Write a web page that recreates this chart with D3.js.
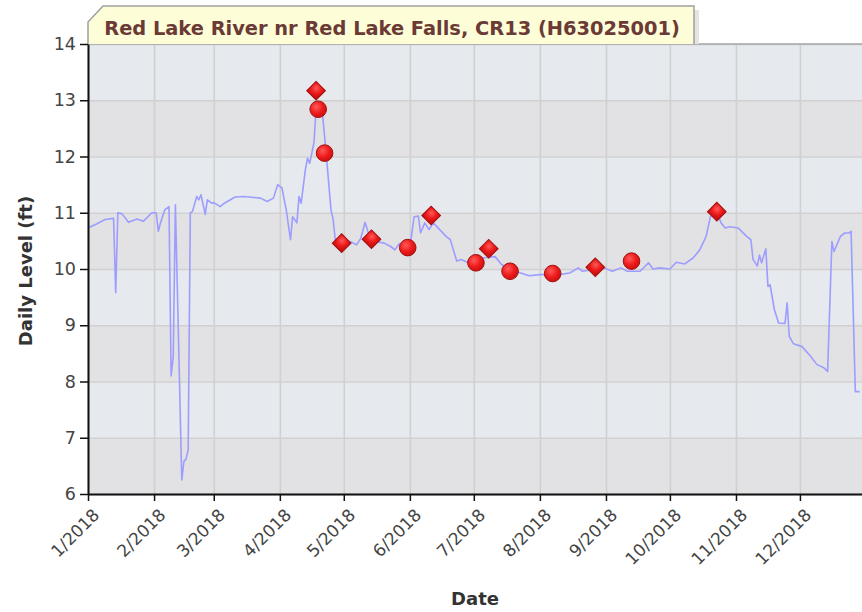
<!DOCTYPE html>
<html>
<head>
<meta charset="utf-8">
<script src="https://cdn.jsdelivr.net/npm/d3@7"></script>
<style>
  body { margin: 0; background: #fff; }
  svg { display: block; }
</style>
</head>
<body>
<svg width="862" height="612"></svg>
<script>
// daily level as [date, ft]
var levelSeries = [
  ["2018-01-01",10.73],["2018-01-05",10.8],["2018-01-09",10.88],["2018-01-13",10.9],["2018-01-14",9.58],
  ["2018-01-15",11.0],["2018-01-17",10.98],["2018-01-20",10.83],["2018-01-24",10.89],["2018-01-27",10.85],
  ["2018-01-31",11.0],["2018-02-02",11.0],["2018-02-03",10.67],["2018-02-04",10.82],["2018-02-06",11.05],
  ["2018-02-08",11.11],["2018-02-09",8.1],["2018-02-10",8.45],["2018-02-11",11.14],["2018-02-14",6.25],
  ["2018-02-15",6.58],["2018-02-16",6.62],["2018-02-17",6.79],["2018-02-18",11.0],["2018-02-19",11.02],
  ["2018-02-21",11.29],["2018-02-22",11.23],["2018-02-23",11.32],["2018-02-25",10.97],["2018-02-26",11.23],
  ["2018-02-28",11.17],["2018-03-01",11.18],["2018-03-04",11.11],["2018-03-06",11.17],["2018-03-11",11.28],
  ["2018-03-15",11.29],["2018-03-20",11.27],["2018-03-23",11.26],["2018-03-26",11.2],["2018-03-29",11.26],
  ["2018-03-31",11.5],["2018-04-02",11.44],["2018-04-04",11.05],["2018-04-06",10.52],["2018-04-07",10.93],
  ["2018-04-09",10.82],["2018-04-10",11.29],["2018-04-11",11.17],["2018-04-13",11.77],["2018-04-14",11.97],
  ["2018-04-15",11.88],["2018-04-17",12.24],["2018-04-18",12.83],["2018-04-21",12.77],["2018-04-23",11.94],
  ["2018-04-25",11.05],["2018-04-26",10.88],["2018-04-27",10.52],["2018-04-30",10.46],["2018-05-04",10.49],
  ["2018-05-07",10.43],["2018-05-09",10.55],["2018-05-11",10.83],["2018-05-13",10.58],["2018-05-16",10.49],
  ["2018-05-20",10.46],["2018-05-23",10.4],["2018-05-25",10.34],["2018-05-27",10.45],["2018-06-01",10.37],
  ["2018-06-03",10.93],["2018-06-05",10.94],["2018-06-06",10.64],["2018-06-08",10.82],["2018-06-10",10.7],
  ["2018-06-12",10.82],["2018-06-15",10.7],["2018-06-18",10.58],["2018-06-20",10.52],["2018-06-23",10.14],
  ["2018-06-25",10.17],["2018-06-28",10.12],["2018-06-29",10.14],["2018-07-06",10.2],["2018-07-11",10.22],
  ["2018-07-14",10.08],["2018-07-18",9.99],["2018-07-23",9.93],["2018-07-27",9.88],["2018-08-01",9.9],
  ["2018-08-04",9.9],["2018-08-10",9.9],["2018-08-15",9.93],["2018-08-19",10.02],["2018-08-21",9.96],
  ["2018-08-26",9.99],["2018-08-31",10.02],["2018-09-04",9.96],["2018-09-08",10.02],["2018-09-11",9.96],
  ["2018-09-17",9.96],["2018-09-21",10.11],["2018-09-23",10.0],["2018-09-26",10.02],["2018-10-01",10.0],
  ["2018-10-04",10.12],["2018-10-08",10.09],["2018-10-12",10.2],["2018-10-15",10.34],["2018-10-18",10.58],
  ["2018-10-20",10.93],["2018-10-23",11.02],["2018-10-25",10.82],["2018-10-27",10.73],["2018-10-29",10.75],
  ["2018-11-02",10.73],["2018-11-06",10.58],["2018-11-08",10.52],["2018-11-09",10.17],["2018-11-11",10.05],
  ["2018-11-12",10.25],["2018-11-13",10.11],["2018-11-15",10.36],["2018-11-16",9.69],["2018-11-17",9.72],
  ["2018-11-19",9.28],["2018-11-21",9.04],["2018-11-24",9.03],["2018-11-25",9.4],["2018-11-26",8.8],
  ["2018-11-28",8.67],["2018-12-02",8.62],["2018-12-06",8.45],["2018-12-09",8.3],["2018-12-12",8.25],
  ["2018-12-14",8.18],["2018-12-16",10.49],["2018-12-17",10.31],["2018-12-20",10.58],["2018-12-22",10.64],
  ["2018-12-24",10.64],["2018-12-25",10.67],["2018-12-27",7.82],["2018-12-29",7.82]
];

// field readings
var diamondPoints = [
  ["2018-04-18",13.17],["2018-04-30",10.46],["2018-05-14",10.53],["2018-06-11",10.95],
  ["2018-07-08",10.36],["2018-08-27",10.03],["2018-10-23",11.02]
];
var circlePoints = [
  ["2018-04-19",12.84],["2018-04-22",12.06],["2018-05-31",10.38],["2018-07-02",10.11],
  ["2018-07-18",9.96],["2018-08-07",9.92],["2018-09-13",10.14]
];

var yTicks = [6, 7, 8, 9, 10, 11, 12, 13, 14];
var title = "Red Lake River nr Red Lake Falls, CR13 (H63025001)";

var parse = d3.timeParse("%Y-%m-%d");

var svg = d3.select("svg"),
    plotLeft = 88, plotTop = 44, plotBottom = 494, plotRight = 866;

var x = d3.scaleTime()
    .domain([new Date(2018, 0, 1), new Date(2019, 0, 1)])
    .range([plotLeft, plotRight]);

var y = d3.scaleLinear()
    .domain([6, 14])
    .range([plotBottom, plotTop]);

var months = d3.timeMonth.range(new Date(2018, 0, 1), new Date(2019, 0, 1));

var defs = svg.append("defs");
var grad = defs.append("radialGradient").attr("id", "ball")
    .attr("cx", "38%").attr("cy", "35%").attr("r", "65%");
grad.append("stop").attr("offset", "0%").attr("stop-color", "#ff5a5a");
grad.append("stop").attr("offset", "60%").attr("stop-color", "#ee1c1c");
grad.append("stop").attr("offset", "100%").attr("stop-color", "#d01010");

defs.append("clipPath").attr("id", "plot")
  .append("rect").attr("x", plotLeft).attr("y", plotTop)
  .attr("width", plotRight - plotLeft).attr("height", plotBottom - plotTop);

// alternating bands
svg.append("g").selectAll("rect")
  .data(d3.range(6, 14))
  .enter().append("rect")
    .attr("x", plotLeft)
    .attr("y", function(d) { return y(d + 1); })
    .attr("width", plotRight - plotLeft)
    .attr("height", function(d) { return y(d) - y(d + 1); })
    .attr("fill", function(d) { return d % 2 === 1 ? "#e6e9ed" : "#e2e2e4"; });

// grid
svg.append("g")
  .attr("transform", "translate(0," + plotBottom + ")")
  .call(d3.axisBottom(x).tickValues(months).tickSize(-(plotBottom - plotTop)).tickFormat(""))
  .call(function(g) {
    g.select(".domain").remove();
    g.selectAll("line").attr("stroke", "#d0d0d0").attr("stroke-width", 1.6);
  });
svg.append("g")
  .attr("transform", "translate(" + plotLeft + ",0)")
  .call(d3.axisLeft(y).tickValues(yTicks).tickSize(-(plotRight - plotLeft)).tickFormat(""))
  .call(function(g) {
    g.select(".domain").remove();
    g.selectAll("line").attr("stroke", "#d0d0d0").attr("stroke-width", 1.6);
  });

// plot top border
svg.append("line")
  .attr("x1", plotLeft).attr("x2", plotRight).attr("y1", plotTop).attr("y2", plotTop)
  .attr("stroke", "#a8a8a8").attr("stroke-width", 1.5);

// title tab
svg.append("rect")
  .attr("x", 694).attr("y", 10).attr("width", 5).attr("height", 34)
  .attr("fill", "#e4e4e4");
svg.append("path")
  .attr("d", "M" + plotLeft + "," + plotTop + "V22L103,6H694V" + plotTop)
  .attr("fill", "#fdfdd7")
  .attr("stroke", "#a0a0a0")
  .attr("stroke-width", 1.5);
svg.append("text")
  .attr("x", 392).attr("y", 35)
  .attr("text-anchor", "middle")
  .attr("font-family", "DejaVu Sans")
  .attr("font-weight", "bold")
  .attr("font-size", 19.4)
  .attr("fill", "#6b3a35")
  .text(title);

// level line
var line = d3.line()
    .x(function(d) { return x(parse(d[0])); })
    .y(function(d) { return y(d[1]); });

svg.append("path")
  .datum(levelSeries)
  .attr("clip-path", "url(#plot)")
  .attr("d", line)
  .attr("fill", "none")
  .attr("stroke", "#9d9dff")
  .attr("stroke-width", 1.6)
  .attr("stroke-linejoin", "round");

// markers
svg.append("g").selectAll("path")
  .data(diamondPoints)
  .enter().append("path")
    .attr("d", d3.symbol().type(d3.symbolSquare).size(175))
    .attr("transform", function(d) { return "translate(" + x(parse(d[0])) + "," + y(d[1]) + ") rotate(45)"; })
    .attr("fill", "url(#ball)")
    .attr("stroke", "#a01010")
    .attr("stroke-width", 1);

svg.append("g").selectAll("circle")
  .data(circlePoints)
  .enter().append("circle")
    .attr("cx", function(d) { return x(parse(d[0])); })
    .attr("cy", function(d) { return y(d[1]); })
    .attr("r", 8.3)
    .attr("fill", "url(#ball)")
    .attr("stroke", "#a01010")
    .attr("stroke-width", 1);

// axes
var xAxis = svg.append("g")
  .attr("transform", "translate(0," + plotBottom + ")")
  .call(d3.axisBottom(x).tickValues(months).tickSize(7).tickSizeOuter(0)
    .tickFormat(function(d) { return (d.getMonth() + 1) + "/" + d.getFullYear(); }));
xAxis.select(".domain").attr("stroke", "#111").attr("stroke-width", 2);
xAxis.selectAll(".tick line").attr("stroke", "#111").attr("stroke-width", 1.5);
xAxis.selectAll(".tick text")
  .attr("font-family", "DejaVu Sans")
  .attr("font-size", 17)
  .attr("fill", "#444")
  .attr("text-anchor", "end")
  .attr("dy", null)
  .attr("y", 0)
  .attr("transform", "translate(12,22) rotate(-45)");

var yAxis = svg.append("g")
  .attr("transform", "translate(" + plotLeft + ",0)")
  .call(d3.axisLeft(y).tickValues(yTicks).tickSize(8).tickSizeOuter(0).tickPadding(4));
yAxis.select(".domain").attr("stroke", "#111").attr("stroke-width", 2);
yAxis.selectAll(".tick line").attr("stroke", "#111").attr("stroke-width", 1.5);
yAxis.selectAll(".tick text")
  .attr("font-family", "DejaVu Sans")
  .attr("font-size", 17.5)
  .attr("fill", "#444");

// axis titles
svg.append("text")
  .attr("transform", "translate(32,271) rotate(-90)")
  .attr("text-anchor", "middle")
  .attr("font-family", "DejaVu Sans")
  .attr("font-weight", "bold")
  .attr("font-size", 18)
  .attr("fill", "#333")
  .text("Daily Level (ft)");

svg.append("text")
  .attr("x", 475).attr("y", 605)
  .attr("text-anchor", "middle")
  .attr("font-family", "DejaVu Sans")
  .attr("font-weight", "bold")
  .attr("font-size", 18)
  .attr("fill", "#333")
  .text("Date");
</script>
</body>
</html>
